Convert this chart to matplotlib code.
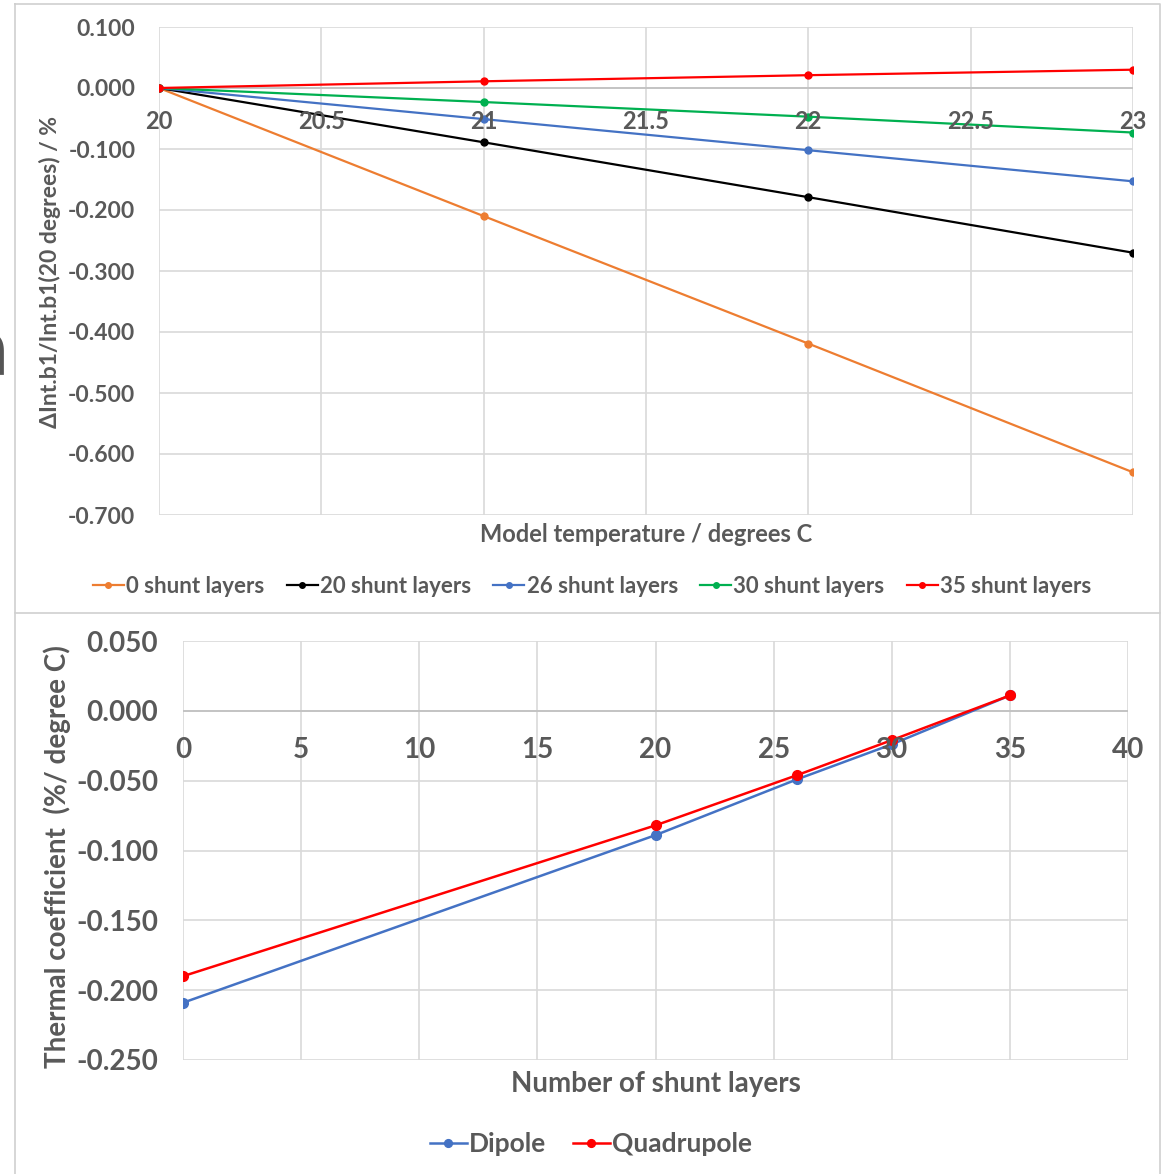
import matplotlib.pyplot as plt
from matplotlib.lines import Line2D

# top chart: change of integrated b1 vs model temperature
temps = [20, 21, 22, 23]
top_series = {
    "0 shunt layers": [0.0, -0.210, -0.419, -0.630],
    "20 shunt layers": [0.0, -0.089, -0.179, -0.270],
    "26 shunt layers": [0.0, -0.051, -0.102, -0.153],
    "30 shunt layers": [0.0, -0.023, -0.047, -0.073],
    "35 shunt layers": [0.0, 0.011, 0.021, 0.030],
}
top_colors = ["#ED7D31", "#000000", "#4472C4", "#00B050", "#FF0000"]
top_yticks = [0.1, 0.0, -0.1, -0.2, -0.3, -0.4, -0.5, -0.6, -0.7]
top_xticks = [20, 20.5, 21, 21.5, 22, 22.5, 23]

# bottom chart: thermal coefficient vs number of shunt layers
layers = [0, 20, 26, 30, 35]
dipole = [-0.209, -0.089, -0.049, -0.024, 0.011]
quadrupole = [-0.190, -0.082, -0.046, -0.021, 0.011]
bot_yticks = [0.05, 0.0, -0.05, -0.1, -0.15, -0.2, -0.25]
bot_xticks = [0, 5, 10, 15, 20, 25, 30, 35, 40]

txt = "#595959"
grid = "#D9D9D9"
font = "Lato"
bold = dict(fontweight="bold", color=txt, family=font)

W, H = 1165, 1174
fig = plt.figure(figsize=(W / 100, H / 100), dpi=100)

def fx(px):
    return px / W

def fy(py):
    return 1 - py / H

# frames around the two charts
for xs, ys in [([15, 1160, 1160, 15, 15], [4, 4, 613, 613, 4]),
               ([15, 15], [613, 1174]), ([1160, 1160], [613, 1174])]:
    fig.add_artist(Line2D([fx(v) for v in xs], [fy(v) for v in ys],
                          color="#D0D0D0", lw=1.2))

# cut-off letter at the left edge
fig.text(fx(10), fy(375), "a", fontsize=55, color="#555555", ha="right",
         va="baseline", family="DejaVu Sans")

# ---------------- top chart ----------------
ax1 = fig.add_axes([fx(159), fy(515), fx(1133) - fx(159), fy(27) - fy(515)])
for (name, vals), c in zip(top_series.items(), top_colors):
    ax1.plot(temps, vals, color=c, lw=1.6, marker="o", ms=5, label=name,
             zorder=3)
ax1.set_xlim(20, 23)
ax1.set_ylim(-0.7, 0.1)
ax1.set_xticks(top_xticks)
ax1.set_yticks(top_yticks)
ax1.set_xticklabels([])
ax1.set_yticklabels(["%.3f" % v for v in top_yticks], fontsize=16.5, **bold)
ax1.tick_params(length=0, pad=17)
ax1.grid(True, color=grid, lw=1.2)
ax1.set_axisbelow(True)
for s in ax1.spines.values():
    s.set_visible(False)
ax1.axhline(0, color="#BFBFBF", lw=1.2, zorder=1)
for t in top_xticks:
    ax1.annotate("%g" % t, (t, 0), xytext=(0, -24), textcoords="offset points",
                 ha="center", va="center", fontsize=17, zorder=5, **bold)
fig.text(fx(50), fy(272), "ΔInt.b1/Int.b1(20 degrees) / %", fontsize=16.5,
         rotation=90, ha="center", va="center", **bold)
fig.text(fx(646), fy(535), "Model temperature / degrees C", fontsize=17,
         ha="center", va="center", **bold)
fig.legend(*ax1.get_legend_handles_labels(), loc="center",
           bbox_to_anchor=(fx(592), fy(586)), ncol=5, frameon=False,
           handlelength=1.4, handletextpad=0.1, columnspacing=1.0,
           markerscale=0.8, prop={"family": font, "weight": "bold", "size": 16},
           labelcolor=txt)

# ---------------- bottom chart ----------------
ax2 = fig.add_axes([fx(183), fy(1060), fx(1128) - fx(183), fy(641) - fy(1060)])
ax2.plot(layers, dipole, color="#4472C4", lw=1.8, marker="o", ms=7,
         label="Dipole", zorder=3)
ax2.plot(layers, quadrupole, color="#FF0000", lw=1.8, marker="o", ms=7,
         label="Quadrupole", zorder=4)
ax2.set_xlim(0, 40)
ax2.set_ylim(-0.25, 0.05)
ax2.set_xticks(bot_xticks)
ax2.set_yticks(bot_yticks)
ax2.set_xticklabels([])
ax2.set_yticklabels(["%.3f" % v for v in bot_yticks], fontsize=20, **bold)
ax2.tick_params(length=0, pad=18)
ax2.grid(True, color=grid, lw=1.2)
ax2.set_axisbelow(True)
for s in ax2.spines.values():
    s.set_visible(False)
ax2.axhline(0, color="#BFBFBF", lw=1.2, zorder=1)
for t in bot_xticks:
    ax2.annotate("%g" % t, (t, 0), xytext=(0, -28), textcoords="offset points",
                 ha="center", va="center", fontsize=20, zorder=5, **bold)
fig.text(fx(57), fy(857), "Thermal coefficient  (%/ degree C)", fontsize=20,
         rotation=90, ha="center", va="center", **bold)
fig.text(fx(656), fy(1084), "Number of shunt layers", fontsize=20,
         ha="center", va="center", **bold)
fig.legend(*ax2.get_legend_handles_labels(), loc="center",
           bbox_to_anchor=(fx(591), fy(1144)), ncol=2, frameon=False,
           handlelength=1.4, handletextpad=0.1, columnspacing=1.0,
           markerscale=0.8, prop={"family": font, "weight": "bold", "size": 19},
           labelcolor=txt)

fig.savefig("out.png", dpi=100)
